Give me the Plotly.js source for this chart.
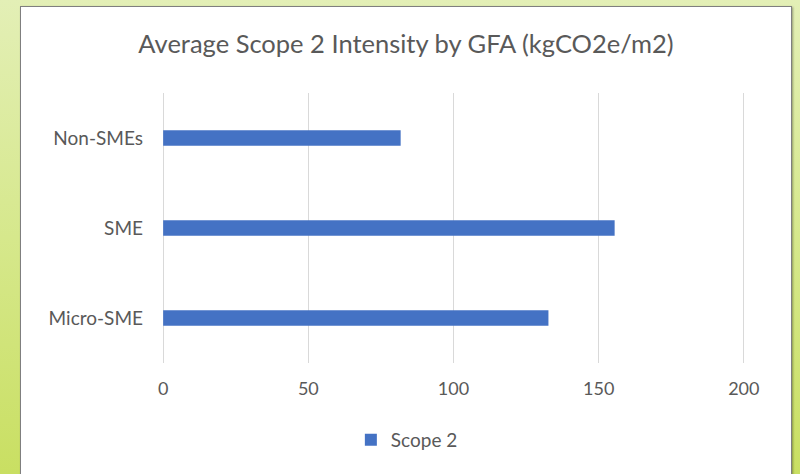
<!DOCTYPE html>
<html>
<head>
<meta charset="utf-8">
<script src="https://cdn.plot.ly/plotly-3.0.1.min.js"></script>
<style>
  html, body { margin:0; padding:0; width:800px; height:474px; overflow:hidden; }
  body { background: linear-gradient(180deg, #e3efb6 0%, #d6e88c 50%, #c9df62 100%); position:relative; }
  #frame { position:absolute; left:20px; top:6px; width:770px; height:470px; background:#fff; border:1px solid #7f7f7f; box-shadow: 1px 1px 2px rgba(0,0,0,0.35); }
  #chart { width:770px; height:470px; }
</style>
</head>
<body>
<div id="frame"><div id="chart"></div></div>
<script>
const categories = ['Micro-SME', 'SME', 'Non-SMEs'];
const scope2 = [132.7, 155.5, 81.8];
const seriesName = 'Scope 2';
const xTicks = [0, 50, 100, 150, 200];
const titleText = 'Average Scope 2 Intensity by GFA (kgCO2e/m2)';

const font = 'Lato, "Open Sans", sans-serif';
Plotly.newPlot('chart', [{
  type: 'bar',
  orientation: 'h',
  y: categories,
  x: scope2,
  name: seriesName,
  marker: { color: '#4472c4' },
  hoverinfo: 'x+y'
}], {
  width: 770, height: 470,
  margin: { l: 141, r: 46, t: 86, b: 114 },
  paper_bgcolor: '#ffffff',
  plot_bgcolor: '#ffffff',
  font: { family: font, color: '#595959', size: 19 },
  title: { text: titleText, font: { family: font, size: 25.5, color: '#595959' }, x: 0.5, xanchor: 'center', y: 0.921, yanchor: 'middle' },
  bargap: 0.83,
  xaxis: {
    range: [-0.4, 200.4], tickvals: xTicks, ticktext: xTicks.map(String),
    showgrid: true, gridcolor: '#d9d9d9', gridwidth: 1, zeroline: false,
    showline: false, ticks: '', ticklabelstandoff: 13,
    tickfont: { family: font, size: 18, color: '#595959' }, fixedrange: true
  },
  yaxis: {
    type: 'category', showgrid: false, zeroline: false, showline: false,
    ticks: '', ticklabelstandoff: 18,
    tickfont: { family: font, size: 19, color: '#595959' }, fixedrange: true
  },
  showlegend: true,
  legend: { orientation: 'h', x: 0.42, xanchor: 'center', y: -0.285, yanchor: 'middle',
            font: { family: font, size: 19, color: '#595959' }, itemwidth: 30 }
}, { displayModeBar: false, staticPlot: true });
</script>
</body>
</html>
